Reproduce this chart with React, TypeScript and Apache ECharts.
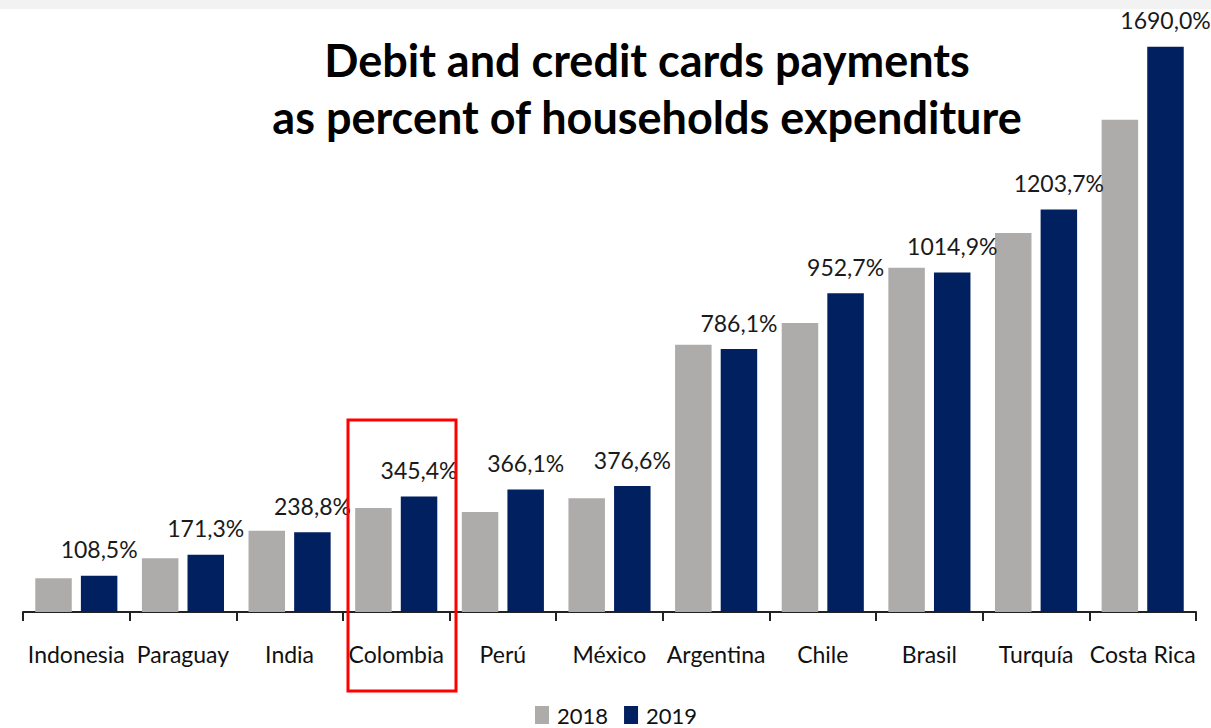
import React, { useEffect, useRef } from "react";
import * as echarts from "echarts";

const categories = ["Indonesia", "Paraguay", "India", "Colombia", "Perú", "México", "Argentina", "Chile", "Brasil", "Turquía", "Costa Rica"];
const values2018 = [101, 161, 243, 311, 299, 340, 799, 864, 1029, 1133, 1472];
const values2019 = [108.5, 171.3, 238.8, 345.4, 366.1, 376.6, 786.1, 952.7, 1014.9, 1203.7, 1690.0];
const seriesNames = ["2018", "2019"];
const titleLines = ["Debit and credit cards payments", "as percent of households expenditure"];

const FONT = "Lato, 'Open Sans', sans-serif";

export default function App() {
  const ref = useRef<HTMLDivElement>(null);
  useEffect(() => {
    if (!ref.current) return;
    const chart = echarts.init(ref.current, undefined, { renderer: "svg" });
    chart.setOption({
      animation: false,
      backgroundColor: "#FFFFFF",
      textStyle: { fontFamily: FONT },
      grid: { left: 23, right: 15, top: 10, bottom: 116, containLabel: false },
      legend: {
        data: seriesNames,
        left: 530,
        top: 699,
        itemWidth: 14,
        itemHeight: 18,
        itemGap: 16,
        icon: "rect",
        textStyle: { fontSize: 22, color: "#111", fontFamily: FONT, padding: [0, 0, 0, 3] },
      },
      xAxis: {
        type: "category",
        data: categories,
        axisLine: { show: true, lineStyle: { color: "#222", width: 2 } },
        axisTick: { show: true, inside: false, length: 9, interval: 0, lineStyle: { color: "#222", width: 2 } },
        axisLabel: { fontSize: 23, color: "#111", margin: 30, fontFamily: FONT, interval: 0 },
      },
      yAxis: {
        type: "value",
        min: 0,
        max: 1800,
        show: false,
        splitLine: { show: false },
      },
      series: [
        {
          name: seriesNames[0],
          type: "bar",
          data: values2018,
          barCategoryGap: "23%",
          barGap: "25%",
          itemStyle: { color: "#AEABAB" },
        },
        {
          name: seriesNames[1],
          type: "bar",
          data: values2019,
          barCategoryGap: "23%",
          barGap: "25%",
          itemStyle: { color: "#002060" },
          label: {
            show: true,
            position: "top",
            distance: 15,
            fontSize: 23,
            color: "#1a1a1a",
            fontFamily: FONT,
            formatter: (p: any) => p.value.toFixed(1).replace(".", ",") + "%",
          },
        },
      ],
      graphic: [
        { type: "rect", left: 0, top: 0, shape: { width: 1211, height: 9 }, style: { fill: "#F2F2F2" }, silent: true },
        {
          type: "text",
          x: 647,
          y: 60,
          style: { text: titleLines[0], textAlign: "center", textVerticalAlign: "middle", fontSize: 45, fontWeight: "bold", fontFamily: FONT, fill: "#000" },
        },
        {
          type: "text",
          x: 647,
          y: 117,
          style: { text: titleLines[1], textAlign: "center", textVerticalAlign: "middle", fontSize: 45, fontWeight: "bold", fontFamily: FONT, fill: "#000" },
        },
        {
          type: "rect",
          shape: { x: 348, y: 420, width: 108, height: 271 },
          style: { fill: "none", stroke: "#FF0000", lineWidth: 3 },
          z: 100,
        },
      ],
    });
    return () => chart.dispose();
  }, []);
  return <div ref={ref} style={{ position: "fixed", left: 0, top: 0, width: 1211, height: 728 }} />;
}
